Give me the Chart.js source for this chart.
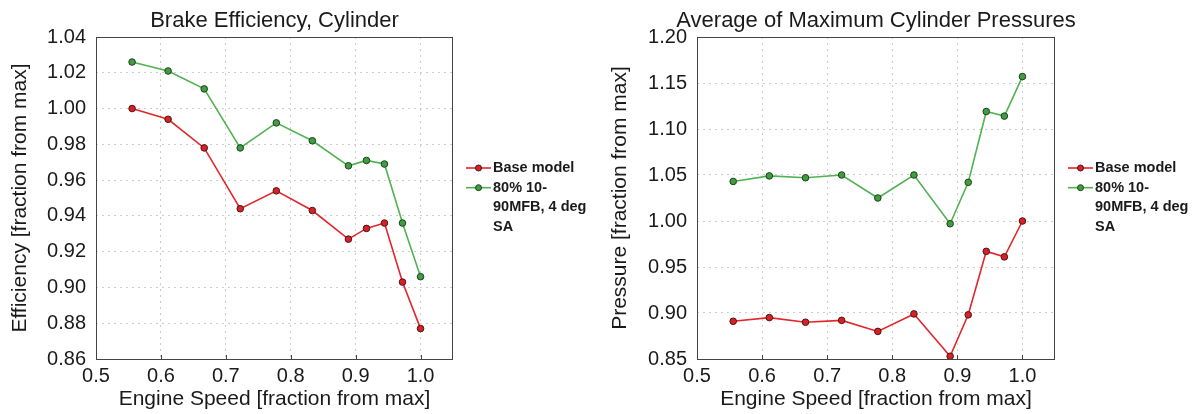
<!DOCTYPE html>
<html>
<head>
<meta charset="utf-8">
<script src="https://cdn.jsdelivr.net/npm/chart.js@4"></script>
<style>
  body { margin: 0; background: #fff; }
  .wrap { position: absolute; top: 0; width: 600px; height: 414px; }
</style>
</head>
<body>
<div class="wrap" style="left:0"><canvas id="effChart" width="600" height="414"></canvas></div>
<div class="wrap" style="left:600px"><canvas id="presChart" width="600" height="414"></canvas></div>
<script>
// engine speed, fraction from max
const speed = [0.5556, 0.6111, 0.6667, 0.7222, 0.7778, 0.8333, 0.8889, 0.9167, 0.9444, 0.9722, 1.0];

// brake efficiency (fraction from max)
const effBase = [1.000, 0.994, 0.978, 0.944, 0.954, 0.943, 0.927, 0.933, 0.936, 0.903, 0.877];
const effMfb = [1.026, 1.021, 1.011, 0.978, 0.992, 0.982, 0.968, 0.971, 0.969, 0.936, 0.906];

// average max cylinder pressure (fraction from max)
const presBase = [0.891, 0.895, 0.890, 0.892, 0.880, 0.899, 0.853, 0.898, 0.967, 0.961, 1.000];
const presMfb = [1.043, 1.049, 1.047, 1.050, 1.025, 1.050, 0.997, 1.042, 1.119, 1.114, 1.157];

const seriesLabels = ['Base model', '80% 10-90MFB, 4 deg SA'];

const FONT = "'Liberation Sans', Arial, sans-serif";
const TEXT = '#1a1a1a';
const RED = '#e3262b';
const GREEN = '#52b152';

function toPoints(ys) {
    return speed.map((x, i) => ({ x: x, y: ys[i] }));
}

function makeDataset(label, ys, line, fill, edge) {
    return {
        label: label,
        data: toPoints(ys),
        borderColor: line,
        borderWidth: 1.6,
        pointRadius: 3.3,
        pointBackgroundColor: fill,
        pointBorderColor: edge,
        pointBorderWidth: 1,
        tension: 0
    };
}

// split label into pieces, allowing breaks at spaces and after hyphens
function wrapText(ctx, text, maxW) {
    const pieces = [];
    text.split(' ').forEach((w, i) => {
        w.split(/(?<=-)/).forEach((s, j) => pieces.push({ t: s, sp: j === 0 && i > 0 }));
    });
    const lines = [];
    let line = '';
    pieces.forEach(p => {
        const cand = line + (line && p.sp ? ' ' : '') + p.t;
        if (line && ctx.measureText(cand).width > maxW) {
            lines.push(line);
            line = p.t;
        } else {
            line = cand;
        }
    });
    if (line) lines.push(line);
    return lines;
}

// title over the plot area, frame, inner ticks and the legend on the right
const decorations = {
    id: 'decorations',
    afterDraw(chart, args, opts) {
        const ctx = chart.ctx;
        const a = chart.chartArea;
        ctx.save();

        ctx.fillStyle = TEXT;
        ctx.font = '22px ' + FONT;
        ctx.textAlign = 'center';
        ctx.textBaseline = 'alphabetic';
        ctx.fillText(opts.title, (a.left + a.right) / 2, 27);

        ctx.strokeStyle = '#444';
        ctx.lineWidth = 1;
        ctx.strokeRect(a.left + 0.5, a.top + 0.5, a.right - a.left - 1, a.bottom - a.top);

        const xs = chart.scales.x;
        ctx.beginPath();
        xs.ticks.forEach(t => {
            const px = Math.round(xs.getPixelForValue(t.value)) + 0.5;
            ctx.moveTo(px, a.bottom);
            ctx.lineTo(px, a.bottom - 4);
        });
        ctx.stroke();

        // legend
        ctx.font = 'bold 14.5px ' + FONT;
        ctx.textAlign = 'left';
        ctx.textBaseline = 'middle';
        const x0 = a.right + 13;
        let y = 168;
        const step = 19.7;
        chart.data.datasets.forEach(ds => {
            ctx.strokeStyle = ds.borderColor;
            ctx.lineWidth = 1.6;
            ctx.beginPath();
            ctx.moveTo(x0, y);
            ctx.lineTo(x0 + 25, y);
            ctx.stroke();
            ctx.beginPath();
            ctx.arc(x0 + 12.5, y, 3, 0, Math.PI * 2);
            ctx.fillStyle = ds.pointBackgroundColor;
            ctx.fill();
            ctx.strokeStyle = ds.pointBorderColor;
            ctx.lineWidth = 1;
            ctx.stroke();
            ctx.fillStyle = TEXT;
            wrapText(ctx, ds.label, 105).forEach(l => {
                ctx.fillText(l, x0 + 27, y);
                y += step;
            });
        });
        ctx.restore();
    }
};

function makeChart(id, title, yTitle, yMin, yMax, yStep, yDigits, yWidth, padRight, base, mfb) {
    return new Chart(document.getElementById(id), {
        type: 'line',
        data: {
            datasets: [
                makeDataset(seriesLabels[0], base, RED, '#d92026', '#4a1515'),
                makeDataset(seriesLabels[1], mfb, GREEN, '#3f9f3f', '#1f3f1f')
            ]
        },
        options: {
            responsive: false,
            animation: false,
            layout: { padding: { top: 37, right: padRight, left: 0, bottom: 0 } },
            plugins: {
                legend: { display: false },
                tooltip: { enabled: false },
                decorations: { title: title }
            },
            scales: {
                x: {
                    type: 'linear',
                    min: 0.5,
                    max: 1.05,
                    afterFit: s => { s.height = 55; },
                    ticks: {
                        stepSize: 0.1,
                        includeBounds: false,
                        padding: 5,
                        color: TEXT,
                        font: { family: FONT, size: 20 },
                        callback: v => v.toFixed(1)
                    },
                    grid: { color: '#cdcdcd', drawTicks: false },
                    border: { display: false, dash: [2, 4] },
                    title: {
                        display: true,
                        text: 'Engine Speed [fraction from max]',
                        color: TEXT,
                        font: { family: FONT, size: 21 },
                        padding: { top: 2, bottom: 2 }
                    }
                },
                y: {
                    min: yMin,
                    max: yMax,
                    afterFit: s => { s.width = yWidth; },
                    ticks: {
                        stepSize: yStep,
                        padding: 10,
                        color: TEXT,
                        font: { family: FONT, size: 20 },
                        callback: v => v.toFixed(yDigits)
                    },
                    grid: { color: '#cdcdcd', drawTicks: false },
                    border: { display: false, dash: [2, 4] },
                    title: {
                        display: true,
                        text: yTitle,
                        color: TEXT,
                        font: { family: FONT, size: 21 },
                        padding: { top: 8, bottom: 8 }
                    }
                }
            }
        },
        plugins: [decorations]
    });
}

makeChart('effChart', 'Brake Efficiency, Cylinder', 'Efficiency [fraction from max]',
    0.86, 1.04, 0.02, 2, 96, 147, effBase, effMfb);
makeChart('presChart', 'Average of Maximum Cylinder Pressures', 'Pressure [fraction from max]',
    0.85, 1.20, 0.05, 2, 97, 145, presBase, presMfb);
</script>
</body>
</html>
